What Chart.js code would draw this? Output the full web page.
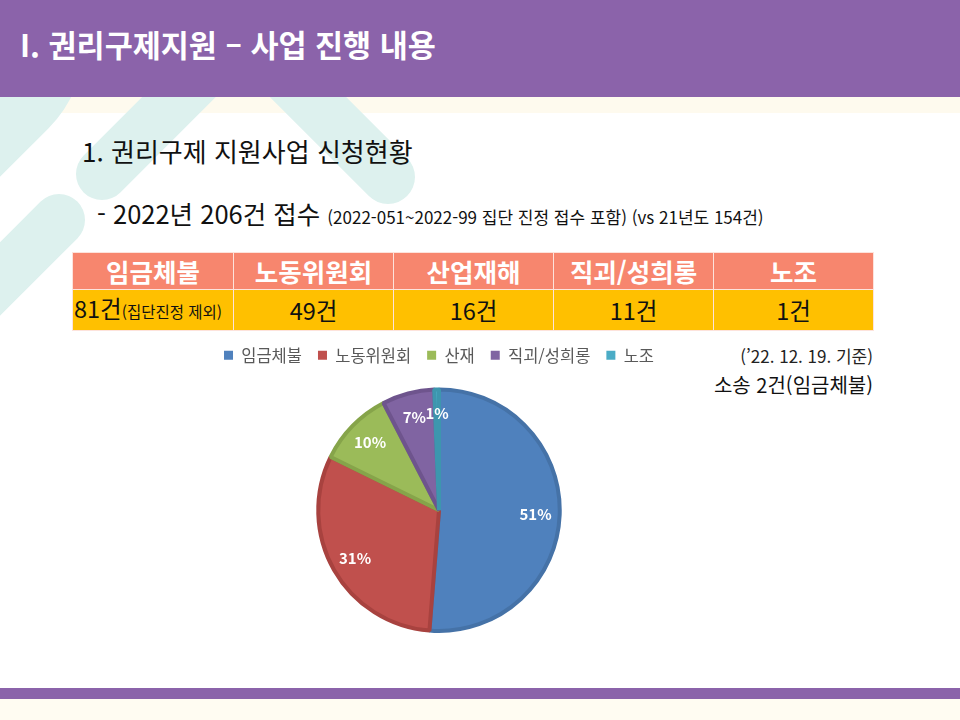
<!DOCTYPE html>
<html lang="ko">
<head>
<meta charset="utf-8">
<script src="https://cdn.jsdelivr.net/npm/chart.js@4.4.1/dist/chart.umd.min.js"></script>
<style>
  html, body { margin:0; padding:0; }
  body { width:960px; height:720px; position:relative; overflow:hidden; background:#ffffff;
         font-family:"Noto Sans CJK KR","Noto Sans",sans-serif; }
  .abs { position:absolute; }
  #deco { position:absolute; left:0; top:0; }
  #header { left:0; top:0; width:960px; height:97px; background:#8B63AA; }
  #title { left:20px; top:21px; color:#fff; font-weight:bold; font-size:30.5px; line-height:46px; white-space:nowrap; }
  #sub1 { left:82px; top:132px; font-size:26px; line-height:38px; color:#111; white-space:nowrap; }
  #sub2 { left:97px; top:195px; font-size:25.5px; line-height:36px; color:#111; white-space:nowrap; }
  #sub2 small { font-size:17px; }
  table { position:absolute; left:72px; top:252px; border-collapse:collapse; table-layout:fixed; }
  td { width:159px; text-align:center; padding:0; border:1px solid #fde3dc; white-space:nowrap; }
  tr.h td { background:#F7866E; color:#fff; font-weight:bold; font-size:25.5px; height:36px; line-height:36px; }
  tr.d td { background:#FFC000; color:#111; font-size:23.5px; height:37px; line-height:37px; }
  tr.d td small { font-size:15.5px; }
  #note1 { right:87px; top:343px; font-size:17px; color:#222; white-space:nowrap; }
  #note2 { right:87px; top:370px; font-size:20px; color:#111; white-space:nowrap; }
  #chartBox { position:absolute; left:159px; top:331px; width:560px; height:308px; }
  #footbar { left:0; top:688px; width:960px; height:11px; background:#8B63AA; }
  #footcream { left:0; top:699px; width:960px; height:21px; background:#FFFCF2; }
  #strip { left:0; top:97px; width:960px; height:16px; background:#FEFAEE; }
</style>
</head>
<body>
<div id="strip" class="abs"></div>
<svg id="deco" width="960" height="720">
  <g stroke="#DDF1EE" stroke-linecap="round" fill="none">
    <line x1="-40" y1="40" x2="-200" y2="200" stroke-width="250"/>
    <line x1="102" y1="174" x2="260" y2="16" stroke-width="52"/>
    <line x1="388" y1="177" x2="230" y2="19" stroke-width="54"/>
    <line x1="59" y1="220" x2="-120" y2="399" stroke-width="52"/>
  </g>
</svg>
<div id="header" class="abs"></div>
<div id="title" class="abs">I. 권리구제지원 – 사업 진행 내용</div>
<div id="sub1" class="abs">1. 권리구제 지원사업 신청현황</div>
<div id="sub2" class="abs">- 2022년 206건 접수 <small>(2022-051~2022-99 집단 진정 접수 포함) (vs 21년도 154건)</small></div>
<table id="tbl"></table>
<div id="note1" class="abs">(’22. 12. 19. 기준)</div>
<div id="note2" class="abs">소송 2건(임금체불)</div>
<div id="chartBox"><canvas id="c"></canvas></div>
<div id="footbar" class="abs"></div>
<div id="footcream" class="abs"></div>
<script>
const tableHeaders = ['임금체불', '노동위원회', '산업재해', '직괴/성희롱', '노조'];
const tableCounts = ['81건', '49건', '16건', '11건', '1건'];
const firstCellNote = '(집단진정 제외)';
const categories = ['임금체불', '노동위원회', '산재', '직괴/성희롱', '노조'];
const counts = [81, 49, 16, 11, 1];
const fillColors = ['#4F81BD', '#C0504D', '#9BBB59', '#8064A2', '#4BACC6'];
const borderColors = ['#4572A7', '#A8423F', '#86A44A', '#6E548D', '#3D96AE'];

// table
const tbl = document.getElementById('tbl');
const hr = document.createElement('tr'); hr.className = 'h';
tableHeaders.forEach(t => { const td = document.createElement('td'); td.textContent = t; hr.appendChild(td); });
const dr = document.createElement('tr'); dr.className = 'd';
tableCounts.forEach((t, i) => {
  const td = document.createElement('td');
  td.textContent = t;
  if (i === 0) { td.style.textAlign = 'left'; td.style.paddingLeft = '1px';
    const s = document.createElement('small'); s.textContent = firstCellNote; td.appendChild(s); }
  dr.appendChild(td);
});
tbl.appendChild(hr); tbl.appendChild(dr);

const total = counts.reduce((a, b) => a + b, 0);
const pctLabels = {
  id: 'pctLabels',
  afterDatasetsDraw(chart) {
    const ctx = chart.ctx;
    const meta = chart.getDatasetMeta(0);
    ctx.save();
    ctx.font = 'bold 15px "Noto Sans CJK KR", "Noto Sans", sans-serif';
    ctx.fillStyle = '#ffffff';
    ctx.textAlign = 'center';
    ctx.textBaseline = 'middle';
    meta.data.forEach((arc, i) => {
      const p = arc.getProps(['x', 'y', 'startAngle', 'endAngle', 'outerRadius'], true);
      const mid = (p.startAngle + p.endAngle) / 2;
      const r = p.outerRadius * 0.8;
      const txt = Math.round(counts[i] / total * 100) + '%';
      ctx.fillText(txt, p.x + Math.cos(mid) * r, p.y + Math.sin(mid) * r);
    });
    ctx.restore();
  }
};
const legendGap = {
  id: 'legendGap',
  beforeInit(chart) {
    const origFit = chart.legend.fit;
    chart.legend.fit = function () { origFit.call(this); this.height += 14; };
  }
};

new Chart(document.getElementById('c'), {
  type: 'pie',
  data: {
    labels: categories,
    datasets: [{
      data: counts,
      backgroundColor: fillColors,
      borderColor: borderColors,
      borderWidth: 4
    }]
  },
  options: {
    responsive: true,
    maintainAspectRatio: false,
    animation: false,
    layout: { padding: { top: 0, bottom: 6 } },
    plugins: {
      tooltip: { enabled: false },
      legend: {
        position: 'top',
        labels: {
          boxWidth: 9, boxHeight: 9, padding: 16,
          color: '#595959',
          font: { size: 16.5, family: '"Noto Sans CJK KR", "Noto Sans", sans-serif' },
          generateLabels(chart) {
            const items = Chart.overrides.pie.plugins.legend.labels.generateLabels(chart);
            return items.map(it => Object.assign(it, { lineWidth: 0, strokeStyle: it.fillStyle }));
          }
        }
      }
    }
  },
  plugins: [legendGap, pctLabels]
});
</script>
</body>
</html>
